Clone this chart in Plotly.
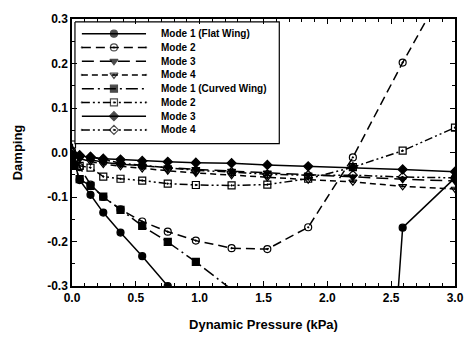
import plotly.graph_objects as go

# Dynamic pressure (kPa) grid
q = [0.0, 0.06, 0.145, 0.245, 0.38, 0.55, 0.75, 0.97, 1.25, 1.53, 1.85, 2.2, 2.59, 3.0]

# Flat wing
flat_m1_x = [0.0, 0.02, 0.06, 0.145, 0.245, 0.38, 0.55, 0.75, None, 2.55, 2.59, 3.0]
flat_m1_y = [-0.005, -0.026, -0.062, -0.095, -0.135, -0.18, -0.233, -0.30, None, -0.33, -0.169, -0.057]
flat_m2_x = [0.0, 0.06, 0.145, 0.245, 0.38, 0.55, 0.75, 0.97, 1.25, 1.53, 1.85, 2.2, 2.59, 2.8]
flat_m2_y = [0.003, -0.033, -0.072, -0.100, -0.128, -0.155, -0.178, -0.198, -0.215, -0.217, -0.168, -0.011, 0.202, 0.31]
flat_m3_y = [-0.003, -0.010, -0.016, -0.022, -0.026, -0.030, -0.034, -0.038, -0.042, -0.046, -0.050, -0.055, -0.060, -0.064]
flat_m4_y = [-0.006, -0.014, -0.020, -0.026, -0.031, -0.036, -0.041, -0.046, -0.051, -0.056, -0.061, -0.066, -0.076, -0.082]

# Curved wing
curv_m1_x = [0.0, 0.02, 0.06, 0.145, 0.245, 0.38, 0.55, 0.75, 0.97, 1.26]
curv_m1_y = [-0.012, -0.030, -0.060, -0.075, -0.099, -0.129, -0.165, -0.201, -0.246, -0.31]
curv_m2_y = [0.018, -0.030, -0.034, -0.054, -0.059, -0.063, -0.070, -0.073, -0.074, -0.072, -0.059, -0.033, 0.004, 0.056]
curv_m3_y = [-0.004, -0.008, -0.010, -0.014, -0.016, -0.019, -0.021, -0.023, -0.024, -0.028, -0.031, -0.033, -0.038, -0.043]
curv_m4_y = [0.0, -0.006, -0.010, -0.016, -0.024, -0.029, -0.035, -0.040, -0.044, -0.049, -0.051, -0.051, -0.055, -0.057]

names = ["Mode 1 (Flat Wing)", "Mode 2", "Mode 3", "Mode 4",
         "Mode 1 (Curved Wing)", "Mode 2", "Mode 3", "Mode 4"]

DD = "8px,3px,2px,3px,2px,3px"
series = [
    (flat_m1_x, flat_m1_y, "solid", "circle"),
    (flat_m2_x, flat_m2_y, "9px,5px", "circle-open-dot"),
    (q, flat_m3_y, "12px,6px", "triangle-down"),
    (q, flat_m4_y, "6px,4px", "triangle-down-open-dot"),
    (curv_m1_x, curv_m1_y, "12px,4px,2px,4px", "square"),
    (q, curv_m2_y, DD, "square-open-dot"),
    (q, curv_m3_y, "solid", "diamond"),
    (q, curv_m4_y, DD, "diamond-open-dot"),
]

fig = go.Figure()
for name, (xs, ys, dash, sym) in zip(names, series):
    fig.add_trace(go.Scatter(
        x=xs, y=ys, name=name, mode="lines+markers", showlegend=False,
        line=dict(color="black", width=1.5, dash=dash),
        marker=dict(symbol=sym, size=7, color="black",
                    line=dict(color="black", width=1.2)),
        connectgaps=False,
    ))

# ---- compact legend drawn on an overlay pixel-space axis (plot area is 388 x 272 px)
PW, PH = 388, 272
box_l, box_r, box_t, box_b = 3, 210, 3, 127
row0, row_step = 15, 14
samp_l, samp_r, text_x = 10, 75, 88
fig.add_trace(go.Scatter(
    x=[box_l, box_r, box_r, box_l, box_l], y=[box_t, box_t, box_b, box_b, box_t],
    xaxis="x2", yaxis="y2", mode="lines", fill="toself", fillcolor="white",
    line=dict(color="black", width=1.2), showlegend=False, hoverinfo="skip"))
legend_font = dict(family="Liberation Sans", size=10, color="black", weight="bold")
annotations = []
for i, (name, (_, _, dash, sym)) in enumerate(zip(names, series)):
    yc = row0 + row_step * i
    xm = (samp_l + samp_r) / 2
    fig.add_trace(go.Scatter(
        x=[samp_l, xm, samp_r], y=[yc, yc, yc], xaxis="x2", yaxis="y2",
        mode="lines+markers", showlegend=False, hoverinfo="skip",
        line=dict(color="black", width=1.5, dash=dash),
        marker=dict(symbol=sym, size=[0, 7, 0], color="black",
                    line=dict(color="black", width=1.2))))
    annotations.append(dict(x=text_x, y=yc, xref="x2", yref="y2", text=name,
                            showarrow=False, xanchor="left", yanchor="middle",
                            font=legend_font))

axis_font = dict(family="Liberation Sans", size=12, color="black", weight="bold")
title_font = dict(family="Liberation Sans", size=13, color="black", weight="bold")
fig.update_layout(
    width=476, height=343,
    margin=dict(l=72, r=16, t=14, b=57),
    paper_bgcolor="white", plot_bgcolor="white",
    showlegend=False,
    annotations=annotations,
    font=dict(family="Liberation Sans", color="black"),
    xaxis2=dict(overlaying="x", range=[0, PW], visible=False, fixedrange=True),
    yaxis2=dict(overlaying="y", range=[PH, 0], visible=False, fixedrange=True),
)
fig.update_xaxes(
    selector=dict(anchor="y"),
    range=[0, 3.0], tickvals=[0, 0.5, 1.0, 1.5, 2.0, 2.5, 3.0],
    ticktext=["0.0", "0.5", "1.0", "1.5", "2.0", "2.5", "3.0"],
    ticks="inside", ticklen=5, tickwidth=1.2, tickcolor="black",
    minor=dict(dtick=0.1, ticks="inside", ticklen=3, tickcolor="black"),
    showline=True, linecolor="black", linewidth=1.5, mirror="ticks",
    showgrid=False, zeroline=False, tickfont=axis_font,
    title=dict(text="Dynamic Pressure (kPa)", font=title_font, standoff=16),
)
fig.layout.xaxis.update(
    range=[0, 3.0], tickvals=[0, 0.5, 1.0, 1.5, 2.0, 2.5, 3.0],
    ticktext=["0.0", "0.5", "1.0", "1.5", "2.0", "2.5", "3.0"],
    ticks="inside", ticklen=5, tickwidth=1.2, tickcolor="black",
    minor=dict(dtick=0.1, ticks="inside", ticklen=3, tickcolor="black"),
    showline=True, linecolor="black", linewidth=1.5, mirror="ticks",
    showgrid=False, zeroline=False, tickfont=axis_font,
    title=dict(text="Dynamic Pressure (kPa)", font=title_font, standoff=16),
)
fig.layout.yaxis.update(
    range=[-0.3, 0.3], tickvals=[-0.3, -0.2, -0.1, 0.0, 0.1, 0.2, 0.3],
    ticktext=["-0.3", "-0.2", "-0.1", "0.0", "0.1", "0.2", "0.3"],
    ticks="inside", ticklen=5, tickwidth=1.2, tickcolor="black",
    minor=dict(dtick=0.05, ticks="inside", ticklen=3, tickcolor="black"),
    showline=True, linecolor="black", linewidth=1.5, mirror="ticks",
    showgrid=False, zeroline=False, tickfont=axis_font,
    title=dict(text="Damping", font=title_font, standoff=22),
)
fig.write_html("out.html")
